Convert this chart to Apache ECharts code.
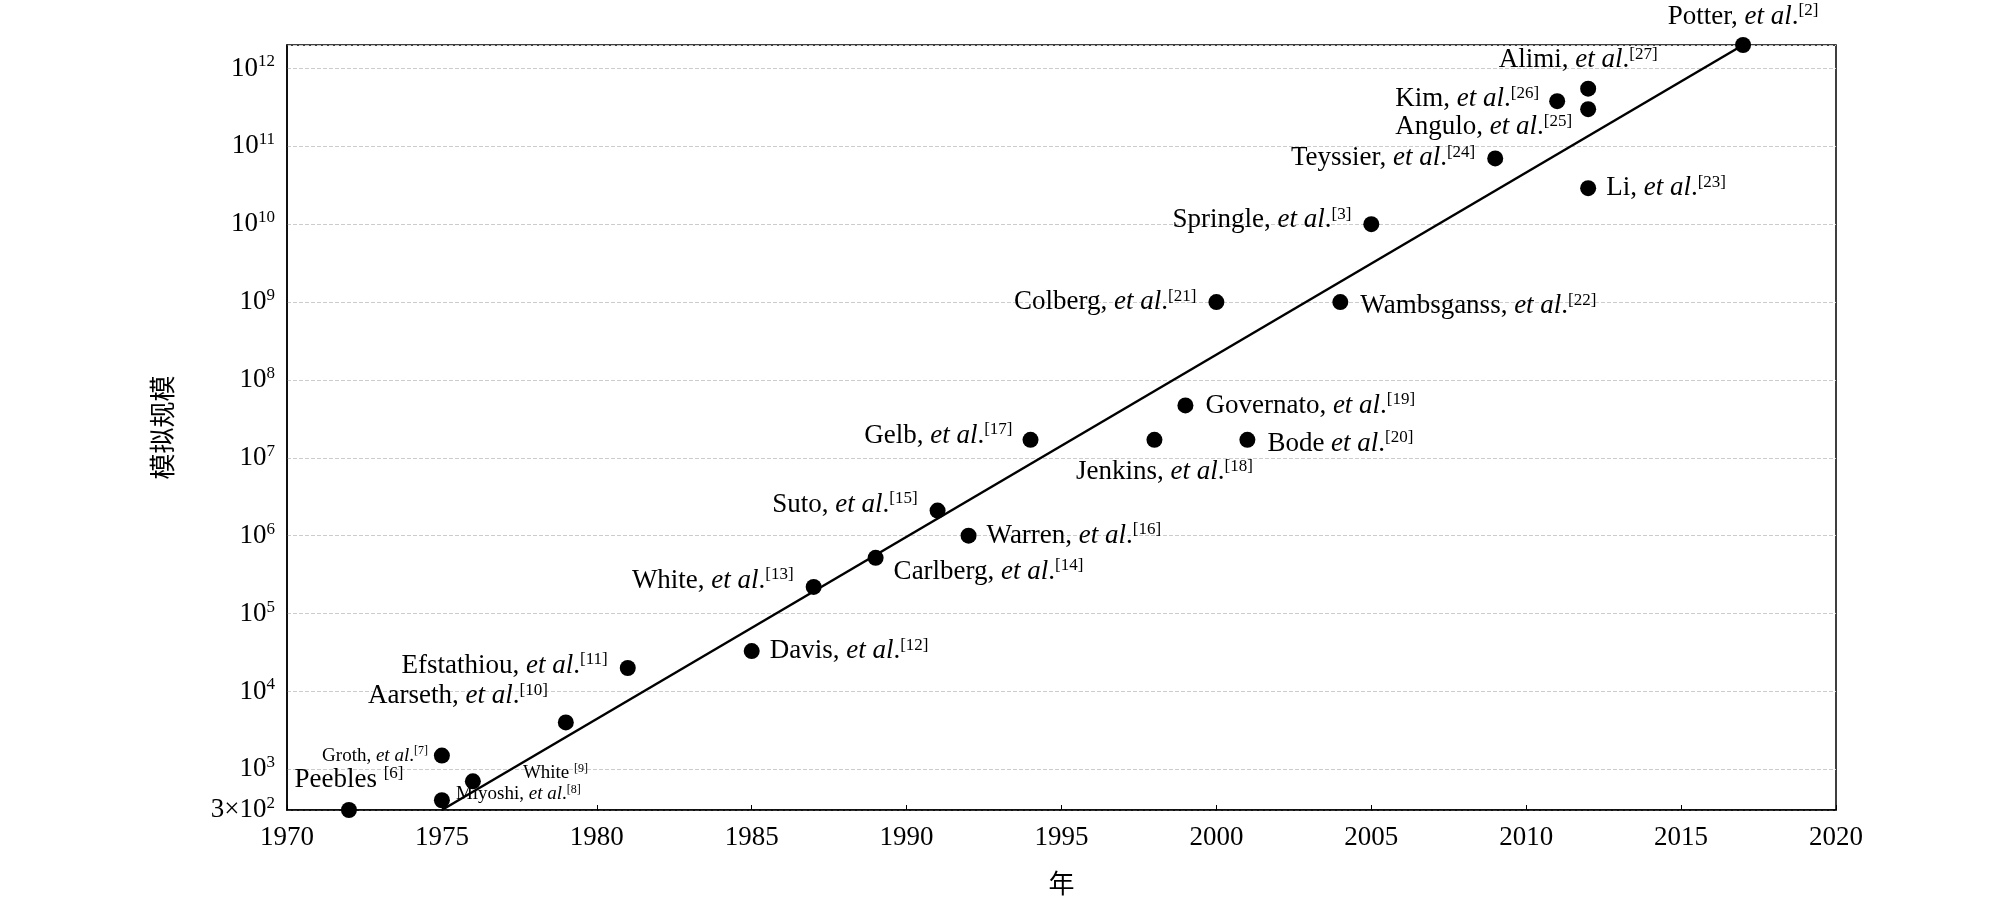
<!DOCTYPE html>
<html lang="zh">
<head>
  <meta charset="UTF-8">
  <title>模拟规模</title>
  <style>
    html, body { margin: 0; padding: 0; background: #fff; }
    #chart { width: 2008px; height: 922px; }
  </style>
</head>
<body>
<div id="chart"></div>
<script src="https://cdn.jsdelivr.net/npm/echarts@6/dist/echarts.min.js"></script>
<script>
  // data
  var years  = [1972, 1975, 1975, 1976, 1979, 1981, 1985, 1987, 1989, 1991, 1992, 1994, 1998, 1999, 2001, 2000, 2004, 2005, 2009, 2012, 2012, 2011, 2012, 2017];
  var values = [300, 1500, 400, 700, 4000, 20000, 33000, 2.2e5, 5.2e5, 2.1e6, 1e6, 1.7e7, 1.7e7, 4.7e7, 1.7e7, 1e9, 1e9, 1e10, 7e10, 2.9e10, 3e11, 3.8e11, 5.5e11, 2e12];
  var names  = ['Peebles', 'Groth,', 'Miyoshi,', 'White', 'Aarseth,', 'Efstathiou,', 'Davis,', 'White,', 'Carlberg,', 'Suto,', 'Warren,', 'Gelb,', 'Jenkins,', 'Governato,', 'Bode', 'Colberg,', 'Wambsganss,', 'Springle,', 'Teyssier,', 'Li,', 'Angulo,', 'Kim,', 'Alimi,', 'Potter,'];
  var etal   = [false, true, true, false, true, true, true, true, true, true, true, true, true, true, true, true, true, true, true, true, true, true, true, true];
  var refs   = [6, 7, 8, 9, 10, 11, 12, 13, 14, 15, 16, 17, 18, 19, 20, 21, 22, 3, 24, 23, 25, 26, 27, 2];
  var trendYears  = [1975, 2017];
  var trendValues = [300, 2e12];
  var yTickPowers = [3, 4, 5, 6, 7, 8, 9, 10, 11, 12];

  // label placement per point
  var labelPlace = [
    ['top', [0, -2], 27], ['left', [0, 0], 19], ['right', [0, -6], 19], ['right', [36, -8], 19],
    ['left', [-4, -26], 27], ['left', [-6, -2], 27], ['right', [4, 0], 27], ['left', [-6, -6], 27],
    ['right', [4, 14], 27], ['left', [-6, -6], 27], ['right', [4, 0], 27], ['left', [-4, -4], 27],
    ['bottom', [10, 4], 27], ['right', [6, 0], 27], ['right', [6, 4], 27], ['left', [-6, 0], 27],
    ['right', [6, 4], 27], ['left', [-6, -4], 27], ['left', [-6, 0], 27], ['right', [4, 0], 27],
    ['left', [-2, 18], 27], ['left', [-4, -2], 27], ['top', [-10, 0], 27], ['top', [0, 0], 27]
  ];

  var serif = 'Liberation Serif';
  function richFor(size) {
    return {
      n: { fontFamily: serif, fontSize: size, color: '#000' },
      i: { fontFamily: serif, fontSize: size, fontStyle: 'italic', color: '#000' },
      s: { fontFamily: serif, fontSize: Math.round(size * 0.62), color: '#000', verticalAlign: 'top', padding: [0, 0, Math.round(size * 0.45), 0] }
    };
  }

  var pts = years.map(function (y, k) {
    var p = labelPlace[k];
    var txt = '{n|' + names[k] + ' }' + (etal[k] ? '{i|et al}{n|.}' : '') + '{s|[' + refs[k] + ']}';
    return {
      value: [y, values[k]],
      label: {
        show: true, position: p[0], offset: p[1], distance: 6,
        formatter: txt, rich: richFor(p[2])
      }
    };
  });

  var myChart = echarts.init(document.getElementById('chart'));
  var option = {
    animation: false,
    grid: { left: 287, right: 172, top: 45, bottom: 112, show: true, borderColor: '#000', borderWidth: 1.5 },
    xAxis: {
      type: 'value', min: 1970, max: 2020, interval: 5,
      name: '年', nameLocation: 'middle', nameGap: 60,
      nameTextStyle: { fontFamily: 'Noto Sans CJK SC', fontSize: 26, color: '#000' },
      axisLine: { lineStyle: { color: '#000', width: 1.5 } },
      axisTick: { inside: true, length: 5, lineStyle: { color: '#000' } },
      axisLabel: { fontFamily: serif, fontSize: 27, color: '#000', margin: 14, formatter: function (v) { return String(v); } },
      splitLine: { show: false }
    },
    yAxis: {
      type: 'log', logBase: 10, min: 300, max: 2e12,
      name: '模拟规模', nameLocation: 'middle', nameGap: 112, nameRotate: 90,
      nameTextStyle: { fontFamily: 'Noto Sans CJK SC', fontSize: 26, color: '#000' },
      axisLine: { lineStyle: { color: '#000', width: 1.5 } },
      axisTick: { show: false },
      splitLine: { show: true, lineStyle: { color: '#ccc', type: 'dashed' } },
      axisLabel: {
        showMinLabel: true, showMaxLabel: false, margin: 12,
        formatter: function (v) {
          if (Math.abs(v - 300) < 1) return '{b|3×10}{s|2}';
          var p = Math.round(Math.log10(v));
          if (yTickPowers.indexOf(p) < 0 || Math.abs(Math.log10(v) - p) > 1e-6) return '';
          return '{b|10}{s|' + p + '}';
        },
        rich: {
          b: { fontFamily: serif, fontSize: 27, color: '#000' },
          s: { fontFamily: serif, fontSize: 17, color: '#000', verticalAlign: 'top', padding: [0, 0, 13, 0] }
        }
      }
    },
    series: [
      {
        type: 'line', data: trendYears.map(function (y, k) { return [y, trendValues[k]]; }),
        symbol: 'none', lineStyle: { color: '#000', width: 2.5 }, z: 1
      },
      {
        type: 'scatter', data: pts, symbolSize: 16,
        itemStyle: { color: '#000', opacity: 1 }, z: 2
      }
    ]
  };
  myChart.setOption(option);
</script>
</body>
</html>
